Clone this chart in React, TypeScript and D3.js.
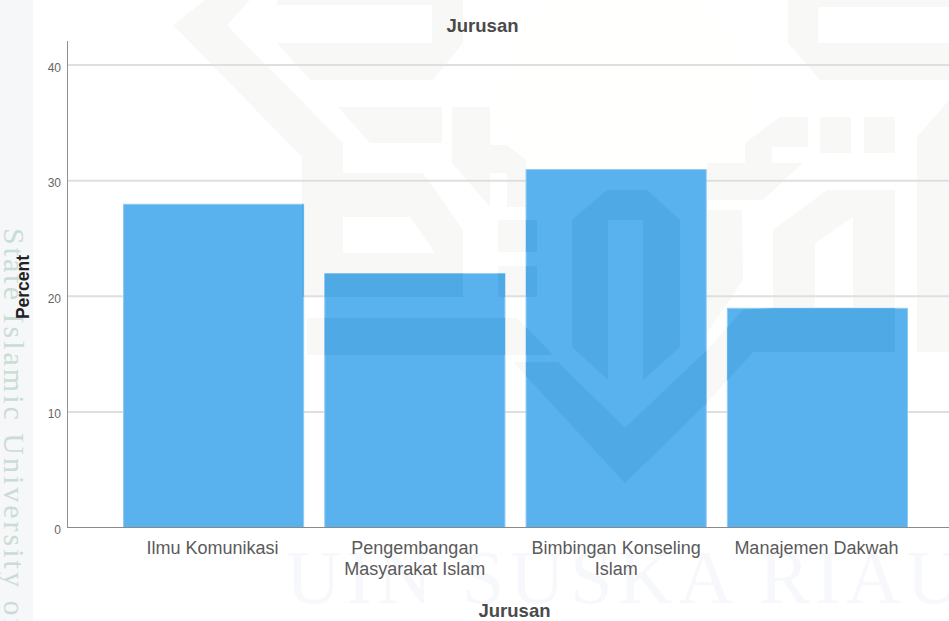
import React from "react";
import * as d3 from "d3";

const categories = ["Ilmu Komunikasi", "Pengembangan Masyarakat Islam", "Bimbingan Konseling Islam", "Manajemen Dakwah"];
const categoryLines = [["Ilmu Komunikasi"], ["Pengembangan", "Masyarakat Islam"], ["Bimbingan Konseling", "Islam"], ["Manajemen Dakwah"]];
const percents = [28, 22, 31, 19];
const yTicks = [0, 10, 20, 30, 40];
const chartTitle = "Jurusan";
const xTitle = "Jurusan";
const yTitle = "Percent";

// Decorative page watermark (background image of the source scan)
const watermarkPaths = [
  "M173,25 L205,0 L250,0 L227,25 L343,143 L343,173 L423,173 L463,230 L463,297 L302,297 L302,157 Z M343,217 L343,253 L435,253 L410,217 Z",
  "M277,0 L463,0 L463,43 L433,80 L310,80 L277,43 L432,43 L432,5 L277,5 Z",
  "M338,107 L442,107 L442,143 L370,143 Z",
  "M452,107 L490,107 L490,145 L507,145 L526,160 L526,207 L507,207 L507,173 L490,173 L490,207 L452,163 Z",
  "M498,220 H537 V252 H498 Z",
  "M498,266 H537 V297 H498 Z",
  "M307,318 L517,318 L553,355 L307,355 Z",
  "M513,362 L558,362 L625,428 L707,350 L707,403 L625,483 Z",
  "M572,220 L607,190 L647,190 L680,220 L680,347 L643,380 L643,220 L608,220 L608,380 L572,347 Z",
  "M707,350 L743,310 L773,308 L773,230 L827,190 L895,190 L895,352 L753,352 L707,403 Z M815,243 L815,307 L853,307 L853,217 Z",
  "M707,210 L742,210 L743,280 L707,333 Z",
  "M707,163 L745,163 L745,143 L780,117 L808,117 L808,147 L772,147 L772,163 L803,163 L763,200 L707,200 Z",
  "M820,117 H851 V153 H820 Z",
  "M864,117 H895 V153 H864 Z",
  "M917,137 L949,100 L949,352 L917,352 Z",
  "M788,0 L949,0 L949,80 L820,80 L788,43 Z M818,7 L818,43 L949,43 L949,7 Z",
];

const W = 949;
const H = 621;
const font = "'Liberation Sans', Arial, sans-serif";

export default function App() {
  const x = d3.scaleBand<string>().domain(categories).range([123, 908]).paddingInner(0.1).paddingOuter(0);
  const y = d3.scaleLinear().domain([0, 40]).range([527.5, 65]);
  const bars = categories.map((c, i) => ({
    c,
    lines: categoryLines[i],
    x: x(c) as number,
    y: y(percents[i]),
    h: y(0) - y(percents[i]),
  }));
  return (
    <svg width={W} height={H} viewBox={`0 0 ${W} ${H}`} style={{ position: "fixed", left: 0, top: 0, background: "#fff" }}>
      <defs>
        <clipPath id="barClip">
          {bars.map((b) => (
            <rect key={b.c} x={b.x + 0.5} y={b.y + 0.5} width={x.bandwidth() - 1} height={b.h - 0.5} />
          ))}
        </clipPath>
      </defs>
      <rect x={0} y={0} width={33} height={H} fill="#f6f7f8" />
      <circle cx={625} cy={100} r={125} fill="#fffffd" />
      <g fill="#f8f8f7" fillRule="evenodd">
        {watermarkPaths.map((d, i) => (
          <path key={i} d={d} />
        ))}
      </g>
      <text x={286} y={603} fontFamily="'Liberation Serif', serif" fontSize={76} letterSpacing={5.5} fill="#f7f8fc">
        UIN SUSKA RIAU
      </text>
      <text
        transform="translate(4,228) rotate(90)"
        fontFamily="'Liberation Serif', serif"
        fontSize={30}
        letterSpacing={3}
        fill="#c9dcd5"
      >
        State Islamic University of Sultan Syarif Kasim Riau
      </text>

      {yTicks.filter((t) => t > 0).map((t) => (
        <line key={t} x1={68} x2={W} y1={y(t)} y2={y(t)} stroke="#dfdfdf" strokeWidth={2} />
      ))}

      {bars.map((b) => (
        <rect
          key={b.c}
          x={b.x + 0.5}
          y={b.y + 0.5}
          width={x.bandwidth() - 1}
          height={b.h - 0.5}
          fill="#59b1ee"
          stroke="#8fcbf5"
          strokeWidth={1}
        />
      ))}
      <g clipPath="url(#barClip)" fill="#4ea9e5" fillRule="evenodd">
        {watermarkPaths.map((d, i) => (
          <path key={i} d={d} />
        ))}
      </g>

      <line x1={67.5} x2={67.5} y1={41} y2={528} stroke="#8f8f8f" strokeWidth={1} />
      <line x1={67} x2={W} y1={527.5} y2={527.5} stroke="#8a8a8a" strokeWidth={1} />

      {yTicks.map((t) => (
        <text key={t} x={61} y={y(t) + 6.5} textAnchor="end" fontFamily={font} fontSize={12} fill="#666">
          {t}
        </text>
      ))}

      {bars.map((b) => (
        <text key={b.c} textAnchor="middle" fontFamily={font} fontSize={18} fill="#5a5a5a">
          {b.lines.map((l, i) => (
            <tspan key={l} x={b.x + x.bandwidth() / 2 - (b.lines.length === 1 ? 1 : 0)} y={554 + i * 21}>
              {l}
            </tspan>
          ))}
        </text>
      ))}

      <text x={482.5} y={32} textAnchor="middle" fontFamily={font} fontWeight="bold" fontSize={18.5} fill="#4a4a4a">
        {chartTitle}
      </text>
      <text x={514.5} y={617} textAnchor="middle" fontFamily={font} fontWeight="bold" fontSize={18.5} fill="#4a4a4a">
        {xTitle}
      </text>
      <text
        transform="translate(29,287) rotate(-90)"
        textAnchor="middle"
        fontFamily={font}
        fontWeight="bold"
        fontSize={17.5}
        fill="#222"
      >
        {yTitle}
      </text>
    </svg>
  );
}
